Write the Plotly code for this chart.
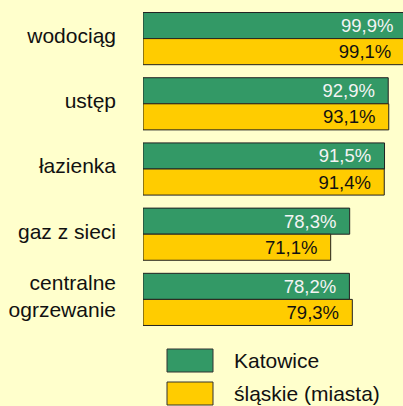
import plotly.graph_objects as go

categories = ["wodociąg", "ustęp", "łazienka", "gaz z sieci", "centralne<br>ogrzewanie"]
katowice = [99.9, 92.9, 91.5, 78.3, 78.2]
slaskie = [99.1, 93.1, 91.4, 71.1, 79.3]
series_names = ["Katowice", "śląskie (miasta)"]

GREEN = "#339966"
YELLOW = "#ffcc00"
BG = "#ffffcc"
FONT = "Arial, Liberation Sans, sans-serif"
PAD = "\u00a0\u00a0"

def fmt(v):
    return f"{v:.1f}".replace(".", ",") + "%" + PAD

fig = go.Figure()
fig.add_trace(go.Bar(
    y=categories, x=katowice, orientation="h", name=series_names[0],
    marker=dict(color=GREEN, line=dict(color="#222222", width=1)),
    text=[fmt(v) for v in katowice], textposition="inside", insidetextanchor="end",
    textangle=0, constraintext="none",
    insidetextfont=dict(color="#f4f4f4", size=18.5, family=FONT),
))
fig.add_trace(go.Bar(
    y=categories, x=slaskie, orientation="h", name=series_names[1],
    marker=dict(color=YELLOW, line=dict(color="#222222", width=1)),
    text=[fmt(v) for v in slaskie], textposition="inside", insidetextanchor="end",
    textangle=0, constraintext="none",
    insidetextfont=dict(color="#111111", size=18.5, family=FONT),
))

W, H = 403, 406
ML, MR, MT, MB = 143, 0, 6, 74
plot_h = H - MT - MB

def py(y):
    return (H - MB - y) / plot_h

def px(x):
    return (x - ML) / (W - ML - MR)

shapes = []
annotations = []
legend_rows = [(GREEN, 349, 372, series_names[0]), (YELLOW, 382, 405, series_names[1])]
for color, y0, y1, name in legend_rows:
    shapes.append(dict(type="rect", xref="paper", yref="paper",
                       x0=px(167), x1=px(213), y0=py(y1), y1=py(y0),
                       fillcolor=color, line=dict(color="#333333", width=1)))
    annotations.append(dict(xref="paper", yref="paper", x=px(232), y=py((y0 + y1) / 2),
                            text=name, showarrow=False, xanchor="left", yanchor="middle",
                            font=dict(size=21, family=FONT, color="#111111")))

fig.update_layout(
    width=W, height=H,
    margin=dict(l=ML, r=MR, t=MT, b=MB),
    paper_bgcolor=BG, plot_bgcolor=BG,
    barmode="group", bargap=0.2, bargroupgap=0,
    showlegend=False,
    shapes=shapes, annotations=annotations,
    font=dict(family=FONT, size=21, color="#111111"),
    xaxis=dict(range=[0, 98.5], visible=False, showgrid=False, zeroline=False),
    yaxis=dict(autorange="reversed", showgrid=False, zeroline=False, showline=False,
               ticks="", ticklabelstandoff=26, ticklabelshift=3,
               tickfont=dict(size=21, family=FONT, color="#111111")),
)

fig.write_html("out.html", config={"displayModeBar": False},
               post_script="document.body.style.margin='0';document.body.style.overflow='hidden';document.body.style.background='#ffffcc';")
